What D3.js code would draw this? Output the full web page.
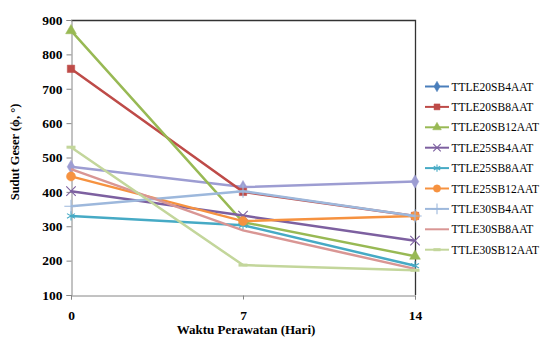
<!DOCTYPE html>
<html>
<head>
<meta charset="utf-8">
<script src="https://cdn.jsdelivr.net/npm/d3@7"></script>
<style>
  body { margin: 0; background: #fff; }
  text { font-family: "Liberation Serif", "Times New Roman", serif; }
</style>
</head>
<body>
<div id="chart"></div>
<script>
// data
var days = [0, 7, 14];
var seriesNames = ["TTLE20SB4AAT", "TTLE20SB8AAT", "TTLE20SB12AAT", "TTLE25SB4AAT", "TTLE25SB8AAT",
  "TTLE25SB12AAT", "TTLE30SB4AAT", "TTLE30SB8AAT", "TTLE30SB12AAT"];
var s20b4 = [473, 414, 430];
var s20b8 = [758, 400, 330];
var s20b12 = [869, 312, 213];
var s25b4 = [402, 331, 258];
var s25b8 = [330, 303, 185];
var s25b12 = [445, 315, 330];
var s30b4 = [358, 402, 330];
var s30b8 = [466, 288, 176];
var s30b12 = [530, 187, 172];
var yTicks = [100, 200, 300, 400, 500, 600, 700, 800, 900];

var values = [s20b4, s20b8, s20b12, s25b4, s25b8, s25b12, s30b4, s30b8, s30b12];
var lineColors = ["#9d9dd2", "#be4b48", "#98b954", "#7d60a0", "#46aac5", "#f69240", "#9db8dc", "#d99694", "#c3d69b"];
var legendColors = ["#4a7ebb", "#be4b48", "#98b954", "#7d60a0", "#46aac5", "#f69240", "#9db8dc", "#d99694", "#c3d69b"];
var markers = ["diamond", "square", "triangle", "x", "asterisk", "circle", "plus", "none", "dash"];

var width = 543, height = 341;
var pLeft = 71, pRight = 415, pTop = 20, pBottom = 295;

var svg = d3.select("#chart").append("svg")
  .attr("width", width)
  .attr("height", height);

var x = d3.scaleLinear().domain([0, 14]).range([pLeft, pRight]);
var y = d3.scaleLinear().domain([100, 900]).range([pBottom, pTop]);

// plot frame (top + right are dark)
svg.append("path")
  .attr("d", "M" + pLeft + "," + (pTop + 0.5) + "H" + (pRight + 0.5) + "V" + pBottom)
  .attr("fill", "none")
  .attr("stroke", "#333")
  .attr("stroke-width", 1.3);

// y axis
var yAxis = svg.append("g")
  .attr("transform", "translate(" + (pLeft + 0.5) + ",0)")
  .call(d3.axisLeft(y).tickValues(yTicks).tickSize(5).tickPadding(4));
yAxis.select(".domain").attr("stroke", "#868686");
yAxis.selectAll(".tick line").attr("stroke", "#868686");
yAxis.selectAll("text")
  .attr("fill", "#000")
  .style("font-family", "Liberation Serif")
  .style("font-size", "13.5px")
  .style("font-weight", "bold");

// x axis
var xAxis = svg.append("g")
  .attr("transform", "translate(0," + (pBottom + 0.5) + ")")
  .call(d3.axisBottom(x).tickValues(days).tickSize(4).tickPadding(11));
xAxis.select(".domain").attr("stroke", "#868686");
xAxis.selectAll(".tick line").attr("stroke", "#868686");
xAxis.selectAll("text")
  .attr("fill", "#000")
  .style("font-family", "Liberation Serif")
  .style("font-size", "13.5px")
  .style("font-weight", "bold");

// axis titles
svg.append("text")
  .attr("x", 246)
  .attr("y", 334)
  .attr("text-anchor", "middle")
  .style("font-size", "13px")
  .style("font-weight", "bold")
  .text("Waktu Perawatan (Hari)");

svg.append("text")
  .attr("transform", "translate(19,152) rotate(-90)")
  .attr("text-anchor", "middle")
  .style("font-size", "12.5px")
  .style("font-weight", "bold")
  .text("Sudut Geser (ϕ, °)");

function drawMarker(g, type, color, cx, cy, scale) {
  if (type === "none") return;
  if (type === "dash") {
    g.append("rect").attr("x", cx - 4.5 * scale).attr("y", cy - 1.5).attr("width", 9 * scale).attr("height", 3).attr("fill", color);
    return;
  }
  var sym, filled = true, size = 50;
  if (type === "diamond") { sym = d3.symbolDiamond; size = 50; }
  if (type === "square") { sym = d3.symbolSquare; size = 55; }
  if (type === "triangle") { sym = d3.symbolTriangle; size = 50; }
  if (type === "circle") { sym = d3.symbolCircle; size = 65; }
  if (type === "x") { sym = d3.symbolX; filled = false; size = 60; }
  if (type === "asterisk") { sym = d3.symbolAsterisk; filled = false; size = 60; }
  if (type === "plus") { sym = d3.symbolPlus; filled = false; size = 60; }
  g.append("path")
    .attr("transform", "translate(" + cx + "," + cy + ")")
    .attr("d", d3.symbol().type(sym).size(size * scale * scale)())
    .attr("fill", filled ? color : "none")
    .attr("stroke", color)
    .attr("stroke-width", filled ? 0.5 : 1.1);
}

var line = d3.line()
  .x(function(d, i) { return x(days[i]); })
  .y(function(d) { return y(d); });

var plot = svg.append("g");
values.forEach(function(vals, k) {
  plot.append("path")
    .datum(vals)
    .attr("d", line)
    .attr("fill", "none")
    .attr("stroke", lineColors[k])
    .attr("stroke-width", 2.5);
  vals.forEach(function(v, i) {
    drawMarker(plot, markers[k], lineColors[k], x(days[i]), y(v), 1);
  });
});

// legend
var legend = svg.append("g");
seriesNames.forEach(function(name, k) {
  var ly = 86.5 + k * 20.4;
  legend.append("line")
    .attr("x1", 425).attr("x2", 449)
    .attr("y1", ly).attr("y2", ly)
    .attr("stroke", legendColors[k])
    .attr("stroke-width", 2);
  drawMarker(legend, markers[k], legendColors[k], 437, ly, 0.8);
  legend.append("text")
    .attr("x", 451.5)
    .attr("y", ly + 4)
    .style("font-size", "11.5px")
    .text(name);
});
</script>
</body>
</html>
